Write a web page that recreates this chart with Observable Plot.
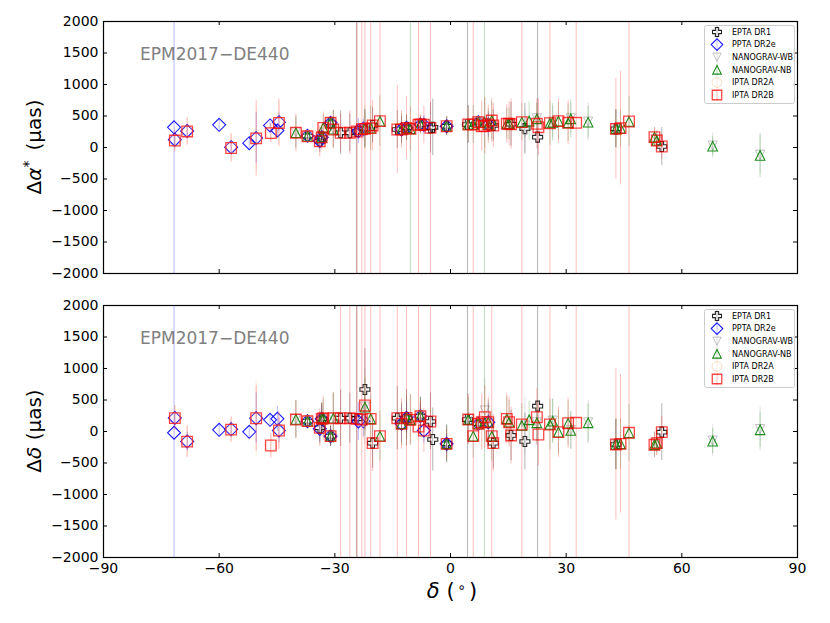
<!DOCTYPE html>
<html>
<head>
<meta charset="utf-8">
<script src="https://cdn.jsdelivr.net/npm/d3@7"></script>
<script src="https://cdn.jsdelivr.net/npm/@observablehq/plot@0.6"></script>
<style>
  html, body { margin: 0; padding: 0; background: white; }
  #chart { width: 830px; height: 623px; position: relative; font-family: "DejaVu Sans", sans-serif; }
  #chart svg { display: block; }
</style>
</head>
<body>
<div id="chart"></div>
<script>
// ---------------- data ----------------
const xTicks = [-90, -60, -30, 0, 30, 60, 90];
const yTicks = [-2000, -1500, -1000, -500, 0, 500, 1000, 1500, 2000];
const annotation = "EPM2017\u2212DE440";

// EPTA DR1
const eptaDec = [-37.1, -33.4, -33.9, -31.1, -28.5, -26.1, -24.3, -22.2, -20.2, -13.8, -11.4, -7.8, -5.2, -4.6, -1.0, 4.4, 7.2, 11.1, 15.7, 19.3, 22.6, 42.9, 54.8];
const eptaRA  = [182, 165, 100, 392, 233, 233, 254, 296, 350, 286, 312, 365, 312, 320, 338, 365, 402, 349, 370, 300, 164, 296, 16];
const eptaDE  = [164, 201, 58, -74, 211, 211, 201, 667, -185, 211, 217, 243, 159, -127, -196, 190, 122, -185, -63, -159, 402, -206, -10];
const eptaRAe = [60, 150, 180, 90, 350, 300, 3500, 300, 280, 300, 200, 120, 400, 450, 150, 3500, 60, 250, 350, 400, 3500, 300, 300];
const eptaDEe = [90, 250, 250, 160, 450, 400, 3500, 650, 400, 500, 450, 300, 450, 500, 300, 3500, 120, 400, 400, 450, 3500, 400, 450];

// PPTA DR2e
const pptaDec = [-71.7, -71.5, -68.3, -60.0, -56.9, -52.2, -50.4, -46.8, -44.9, -44.5, -37.1, -33.4, -33.9, -31.1, -23.9, -22.6, -12.7, -11.4, -7.8, -6.9, -1.0, 7.2, 9.8];
const pptaRA  = [320, 125, 262, 360, 5, 68, 150, 350, 270, 402, 185, 163, 105, 392, 260, 300, 286, 312, 365, 360, 338, 402, 365];
const pptaDE  = [-20, 215, -158, 27, 35, -5, 212, 185, 201, 16, 164, 201, 42, -74, 159, 164, 122, 217, 243, 16, -196, 122, 148];
const pptaRAe = [3500, 80, 100, 80, 100, 80, 400, 60, 100, 150, 40, 100, 120, 80, 200, 150, 200, 100, 80, 150, 100, 40, 200];
const pptaDEe = [3500, 100, 150, 100, 120, 100, 400, 80, 200, 200, 60, 200, 200, 150, 300, 250, 300, 250, 200, 200, 150, 60, 300];

// NANOGRAV-WB
const wbDec = [-40.1, -37.1, -33.4, -31.1, -30.4, -22.2, -7.8, 4.6, 7.2, 8.9, 19.3, 22.4, 26.5, 31.2, 35.7, 42.9, 53.5, 68.0, 80.3];
const wbRA  = [245, 190, 172, 398, 296, 310, 372, 372, 410, 390, 243, 462, 410, 462, 410, 303, 120, 30, -115];
const wbDE  = [198, 170, 208, -68, 218, 395, 250, 198, 130, 333, 95, 145, 172, 22, 145, -198, -178, -145, 38];
const wbRAe = [250, 60, 150, 100, 300, 350, 150, 300, 60, 400, 350, 250, 250, 250, 300, 300, 150, 200, 300];
const wbDEe = [300, 90, 250, 180, 400, 600, 300, 400, 120, 500, 450, 350, 350, 300, 350, 400, 200, 250, 350];

// NANOGRAV-NB
const nbDec = [-40.1, -37.1, -33.4, -33.0, -31.1, -30.4, -22.2, -20.7, -18.3, -12.7, -11.4, -10.4, -7.8, -1.0, 4.6, 5.9, 7.2, 8.8, 9.8, 10.7, 14.6, 15.2, 18.5, 20.4, 22.4, 25.8, 26.5, 28.0, 30.5, 31.2, 35.7, 42.9, 44.1, 46.3, 52.9, 53.5, 68.0, 80.3];
const nbRA  = [235, 180, 165, 312, 392, 290, 300, 307, 418, 286, 312, 296, 365, 338, 365, 365, 402, 402, 365, 428, 376, 376, 402, 420, 455, 386, 400, 418, 392, 455, 402, 296, 307, 413, 164, 111, 21, -127];
const nbDE  = [192, 164, 201, 211, -74, 211, 386, 201, -74, 122, 217, 185, 243, -196, 190, -74, 122, 140, 148, -74, 201, 148, 95, 185, 138, 111, 164, -10, 132, 16, 138, -206, -196, -21, -211, -185, -153, 27];
const nbRAe = [250, 50, 150, 200, 90, 300, 300, 350, 400, 250, 200, 3500, 120, 150, 300, 300, 50, 3500, 250, 300, 250, 250, 300, 300, 250, 350, 300, 300, 300, 300, 250, 300, 300, 400, 150, 100, 150, 350];
const nbDEe = [300, 80, 250, 300, 160, 400, 450, 400, 400, 350, 350, 400, 300, 300, 350, 350, 80, 3500, 350, 400, 350, 350, 350, 300, 300, 400, 350, 350, 350, 300, 300, 400, 400, 450, 200, 150, 200, 280];

// IPTA DR2A
const dr2aDec = [-71.5, -68.3, -56.9, -50.4, -46.6, -44.5, -37.1, -22.6, -7.8, 7.2];
const dr2aRA  = [112, 256, -3, 142, 230, 393, 180, 300, 362, 400];
const dr2aDE  = [210, -160, 30, 210, -220, 20, 166, 166, 240, 124];
const dr2aRAe = [150, 200, 200, 500, 150, 350, 60, 200, 150, 60];
const dr2aDEe = [200, 250, 200, 600, 150, 300, 90, 300, 250, 100];

// IPTA DR2B
const dr2bDec = [-71.5, -68.3, -56.9, -50.4, -46.6, -44.5, -40.1, -37.1, -33.9, -33.4, -33.0, -31.1, -30.4, -28.5, -26.1, -24.3, -23.0, -22.2, -20.7, -20.2, -18.3, -13.8, -12.7, -11.4, -10.4, -8.3, -7.8, -6.9, -5.2, -1.0, 4.6, 5.9, 7.2, 8.1, 8.9, 9.8, 10.7, 11.1, 14.6, 15.2, 15.7, 18.5, 22.4, 22.8, 25.8, 28.0, 30.5, 32.6, 42.9, 44.1, 46.3, 52.9, 53.5, 54.8];
const dr2bRA  = [110, 255, -8, 145, 228, 390, 233, 178, 100, 163, 312, 392, 286, 233, 233, 254, 290, 296, 307, 350, 418, 286, 286, 312, 296, 360, 365, 360, 312, 338, 365, 365, 402, 338, 340, 365, 428, 349, 376, 376, 370, 402, 376, 322, 386, 418, 392, 392, 296, 307, 413, 164, 111, 16];
const dr2bDE  = [212, -160, 30, 210, -222, 16, 190, 164, 58, 201, 211, -74, 211, 211, 211, 201, 190, 413, 201, -185, -74, 211, 122, 217, 185, 79, 243, 16, 159, -196, 190, -74, 122, 148, 227, 148, -74, -185, 201, 148, -63, 111, 227, -48, 111, -10, 132, 138, -206, -196, -21, -211, -185, -10];
const dr2bRAe = [180, 220, 230, 600, 150, 380, 300, 60, 250, 200, 250, 100, 300, 300, 350, 3500, 3500, 3500, 3500, 400, 3500, 700, 300, 500, 350, 3500, 150, 300, 3500, 150, 300, 3500, 60, 400, 450, 300, 350, 350, 300, 350, 400, 3500, 400, 450, 3500, 350, 350, 3500, 800, 900, 3500, 150, 150, 200];
const dr2bDEe = [200, 250, 200, 520, 200, 300, 300, 90, 300, 250, 350, 160, 400, 3500, 3500, 3500, 3500, 3500, 3500, 450, 3500, 3500, 400, 3500, 400, 3500, 250, 350, 3500, 250, 400, 3500, 100, 450, 500, 400, 3500, 450, 400, 400, 450, 3500, 450, 500, 3500, 400, 400, 3500, 1200, 1100, 3500, 200, 200, 250];

// ---------------- marker shapes ----------------
const symPlus = {draw(c, size) { const r = Math.sqrt(size / Math.PI), a = r * 0.36;
  c.moveTo(-a, -r); c.lineTo(a, -r); c.lineTo(a, -a); c.lineTo(r, -a); c.lineTo(r, a); c.lineTo(a, a);
  c.lineTo(a, r); c.lineTo(-a, r); c.lineTo(-a, a); c.lineTo(-r, a); c.lineTo(-r, -a); c.lineTo(-a, -a); c.closePath(); }};
const symDiamond = {draw(c, size) { const r = Math.sqrt(size / Math.PI);
  c.moveTo(0, -r); c.lineTo(r, 0); c.lineTo(0, r); c.lineTo(-r, 0); c.closePath(); }};
const symTriDown = {draw(c, size) { const r = Math.sqrt(size / Math.PI);
  c.moveTo(0, r); c.lineTo(r, -r); c.lineTo(-r, -r); c.closePath(); }};
const symTriUp = {draw(c, size) { const r = Math.sqrt(size / Math.PI);
  c.moveTo(0, -r); c.lineTo(r, r); c.lineTo(-r, r); c.closePath(); }};
const symCircle = {draw(c, size) { const r = Math.sqrt(size / Math.PI);
  c.moveTo(r, 0); c.arc(0, 0, r, 0, 2 * Math.PI); c.closePath(); }};
const symSquare = {draw(c, size) { const r = Math.sqrt(size / Math.PI);
  c.rect(-r, -r, 2 * r, 2 * r); }};

const sets = [
  {name: "EPTA DR1", dec: eptaDec, ra: eptaRA, de: eptaDE, rae: eptaRAe, dee: eptaDEe,
   symbol: symPlus, r: 5, color: "#000000", op: 0.85, sw: 1.1, ecolor: "#000000", eop: 0.3},
  {name: "PPTA DR2e", dec: pptaDec, ra: pptaRA, de: pptaDE, rae: pptaRAe, dee: pptaDEe,
   symbol: symDiamond, r: 6.5, color: "#0000ff", op: 0.9, sw: 1.1, ecolor: "#0000ff", eop: 0.28},
  {name: "NANOGRAV-WB", dec: wbDec, ra: wbRA, de: wbDE, rae: wbRAe, dee: wbDEe,
   symbol: symTriDown, r: 4.6, color: "#a8a8a8", op: 0.7, sw: 1, ecolor: "#888888", eop: 0.25},
  {name: "NANOGRAV-NB", dec: nbDec, ra: nbRA, de: nbDE, rae: nbRAe, dee: nbDEe,
   symbol: symTriUp, r: 4.8, color: "#008000", op: 0.9, sw: 1.1, ecolor: "#008000", eop: 0.25},
  {name: "IPTA DR2A", dec: dr2aDec, ra: dr2aRA, de: dr2aDE, rae: dr2aRAe, dee: dr2aDEe,
   symbol: symCircle, r: 5.5, color: "#f7c99c", op: 0.6, sw: 1, ecolor: "#f0a860", eop: 0.22},
  {name: "IPTA DR2B", dec: dr2bDec, ra: dr2bRA, de: dr2bDE, rae: dr2bRAe, dee: dr2bDEe,
   symbol: symSquare, r: 5.3, color: "#ff0000", op: 0.72, sw: 1.3, ecolor: "#ff0000", eop: 0.26}
];

const fmt = d => d < 0 ? "\u2212" + Math.abs(d) : String(d);
const W = 830, mL = 103, mR = 33, frameH = 252;
const tx = 4 * 180 / (W - mL - mR), ty = 4 * 4000 / frameH;

function panel(valKey, errKey, mTop, mBottom, showX) {
  const marks = [];
  for (const s of sets) {
    const data = s.dec.map((d, i) => ({dec: d, v: s[valKey][i], e: s[errKey][i]}));
    marks.push(Plot.ruleX(data, {x: "dec", y1: d => d.v - d.e, y2: d => d.v + d.e,
      stroke: s.ecolor, strokeOpacity: s.eop, strokeWidth: 1, clip: true}));
    marks.push(Plot.dot(data, {x: "dec", y: "v", symbol: s.symbol, r: s.r, fill: "none",
      stroke: s.color, strokeOpacity: s.op, strokeWidth: s.sw, clip: true}));
  }
  // inward ticks on all four sides
  marks.push(Plot.ruleX(xTicks, {x: d => d, y1: -2000, y2: -2000 + ty, stroke: "black"}));
  marks.push(Plot.ruleX(xTicks, {x: d => d, y1: 2000, y2: 2000 - ty, stroke: "black"}));
  marks.push(Plot.ruleY(yTicks, {y: d => d, x1: -90, x2: -90 + tx, stroke: "black"}));
  marks.push(Plot.ruleY(yTicks, {y: d => d, x1: 90, x2: 90 - tx, stroke: "black"}));
  marks.push(Plot.frame({stroke: "black", strokeWidth: 1.2}));
  marks.push(Plot.axisY({ticks: yTicks, tickSize: 0, tickPadding: 5, tickFormat: fmt, label: null}));
  if (showX) marks.push(Plot.axisX({ticks: xTicks, tickSize: 0, tickPadding: 6, tickFormat: fmt, label: null}));
  return Plot.plot({
    width: W, height: mTop + frameH + mBottom,
    marginLeft: mL, marginRight: mR, marginTop: mTop, marginBottom: mBottom,
    x: {domain: [-90, 90], axis: showX ? undefined : null, label: null},
    y: {domain: [-2000, 2000], label: null},
    style: {fontFamily: "DejaVu Sans", fontSize: "14px", color: "black", background: "white", overflow: "visible"},
    marks
  });
}

function decorate(svg, mTop, labelParts) {
  const S = d3.select(svg);
  // annotation
  S.append("text").attr("x", 140).attr("y", mTop + 39).attr("font-size", 17).attr("text-anchor", "start")
    .attr("font-family", "DejaVu Sans").attr("fill", "#808080").text(annotation);
  // y label
  const t = S.append("text").attr("transform", `translate(41,${mTop + frameH / 2}) rotate(-90)`)
    .attr("text-anchor", "middle").attr("font-size", 20).attr("font-family", "DejaVu Sans");
  t.append("tspan").text("\u0394");
  t.append("tspan").attr("font-style", "italic").text(labelParts.sym);
  if (labelParts.star) {
    t.append("tspan").attr("dy", -8).attr("font-size", 14).text("*");
    t.append("tspan").attr("dy", 8).text("\u2002(\u00b5as)");
  } else {
    t.append("tspan").text(" (\u00b5as)");
  }
  // legend
  const g = S.append("g").attr("text-anchor", "start");
  g.append("rect").attr("x", 704.5).attr("y", mTop + 4.5).attr("width", 90).attr("height", 78).attr("rx", 2)
    .attr("fill", "white").attr("fill-opacity", 0.8).attr("stroke", "#cccccc");
  sets.forEach((s, i) => {
    const cy = mTop + 11 + i * 12.6;
    g.append("line").attr("x1", 717).attr("x2", 717).attr("y1", cy - 6).attr("y2", cy + 6)
      .attr("stroke", s.ecolor).attr("stroke-opacity", s.eop);
    g.append("path").attr("transform", `translate(717,${cy})`)
      .attr("d", d3.symbol(s.symbol, Math.PI * s.r * s.r * 0.8)())
      .attr("fill", "none").attr("stroke", s.color).attr("stroke-opacity", s.op).attr("stroke-width", s.sw);
    g.append("text").attr("x", 732).attr("y", cy).attr("dy", "0.35em").attr("font-size", 8)
      .attr("text-anchor", "start").attr("font-family", "DejaVu Sans").attr("fill", "black").text(s.name);
  });
}

const chart = document.getElementById("chart");
const top1 = panel("ra", "rae", 21, 16, false);
const bot1 = panel("de", "dee", 16, 66, true);
chart.appendChild(top1);
chart.appendChild(bot1);
decorate(top1, 21, {sym: "\u03b1", star: true});
decorate(bot1, 16, {sym: "\u03b4", star: false});

// x label
const xl = d3.select(bot1).append("text").attr("x", 452).attr("y", 16 + frameH + 41)
  .attr("text-anchor", "middle").attr("font-size", 21).attr("font-family", "DejaVu Sans");
xl.append("tspan").attr("font-style", "italic").text("\u03b4");
xl.append("tspan").text(" (");
xl.append("tspan").attr("font-size", 14).attr("dy", -6).text("\u2009\u2218\u2009");
xl.append("tspan").attr("dy", 6).text(")");
</script>
</body>
</html>
